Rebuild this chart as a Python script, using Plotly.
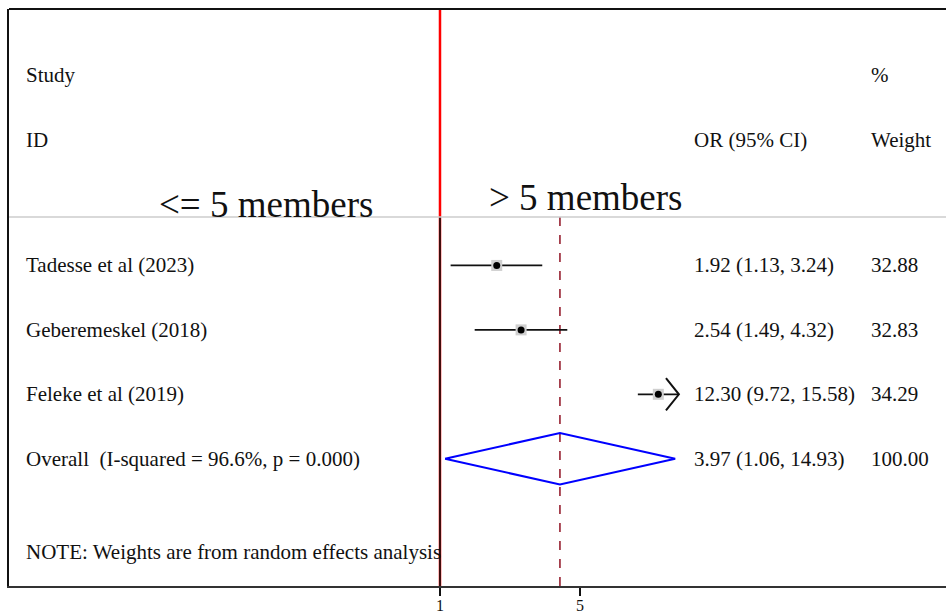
import math
import plotly.graph_objects as go

# Study-level odds ratios (household size > 5 vs <= 5 members)
studies = ["Tadesse et al (2023)", "Geberemeskel (2018)", "Feleke et al (2019)"]
or_est = [1.92, 2.54, 12.30]
ci_lo = [1.13, 1.49, 9.72]
ci_hi = [3.24, 4.32, 15.58]
weights = [32.88, 32.83, 34.29]

# Pooled random-effects estimate
pooled_label = "Overall  (I-squared = 96.6%, p = 0.000)"
pooled_est = 3.97
pooled_lo = 1.06
pooled_hi = 14.93
pooled_weight = 100.00

note_text = "NOTE: Weights are from random effects analysis"
tick_vals = [1, 5]
tick_text = ["1", "5"]

# Row positions (top study first)
study_rows = [4, 3, 2]
pooled_row = 1
y_bottom, y_top = -0.975, 7.98
divider_row = 4.75

FONT = "Liberation Serif"
fig = go.Figure()

# Reference line at OR = 1 (red over the whole panel, black across the study rows)
fig.add_trace(go.Scatter(x=[1, 1], y=[y_bottom, y_top], mode="lines",
                         line=dict(color="#ff0000", width=2.5), hoverinfo="skip"))
fig.add_trace(go.Scatter(x=[1, 1], y=[y_bottom, divider_row], mode="lines",
                         line=dict(color="#111111", width=1.6), hoverinfo="skip"))

# Dashed line at the pooled estimate
fig.add_trace(go.Scatter(x=[pooled_est, pooled_est], y=[y_bottom, divider_row], mode="lines",
                         line=dict(color="#962030", width=1.6, dash="dash"), hoverinfo="skip"))

# Horizontal divider under the header
fig.add_shape(type="line", xref="paper", yref="y", x0=0, x1=1, y0=divider_row, y1=divider_row,
              line=dict(color="#cccccc", width=1.5))

# Confidence intervals
for lo, hi, row in zip(ci_lo, ci_hi, study_rows):
    fig.add_trace(go.Scatter(x=[lo, hi], y=[row, row], mode="lines",
                             line=dict(color="#111111", width=1.8), hoverinfo="skip"))

# Arrowhead on the widest interval
arrow_idx = 2
tip = ci_hi[arrow_idx]
back = tip / 1.16
r = study_rows[arrow_idx]
fig.add_trace(go.Scatter(x=[back, tip, back], y=[r + 0.25, r, r - 0.25], mode="lines",
                         line=dict(color="#111111", width=2), hoverinfo="skip"))

# Weight boxes and point estimates
fig.add_trace(go.Scatter(x=or_est, y=study_rows, mode="markers",
                         marker=dict(symbol="square", size=11, color="#cfcfcf"), hoverinfo="skip"))
fig.add_trace(go.Scatter(x=or_est, y=study_rows, mode="markers",
                         marker=dict(symbol="circle", size=7, color="#000000"), hoverinfo="skip"))

# Pooled diamond
fig.add_trace(go.Scatter(x=[pooled_lo, pooled_est, pooled_hi, pooled_est, pooled_lo],
                         y=[pooled_row, pooled_row + 0.4, pooled_row, pooled_row - 0.4, pooled_row],
                         mode="lines", line=dict(color="#0000ff", width=2), hoverinfo="skip"))

def txt(x, y, s, size=21, anchor="left"):
    fig.add_annotation(x=x, y=y, xref="paper", yref="y", text=s, showarrow=False,
                       xanchor=anchor, yanchor="middle",
                       font=dict(family=FONT, size=size, color="#111111"))

LEFT_X, OR_X, W_X = 0.016, 0.7284, 0.9178

# Column headers
txt(LEFT_X, 6.96, "Study")
txt(LEFT_X, 5.95, "ID")
txt(W_X, 6.96, "%")
txt(W_X, 5.95, "Weight")
txt(OR_X, 5.95, "OR (95% CI)")

# Direction labels
txt(0.2748, 4.95, "&lt;= 5 members", size=37, anchor="center")
txt(0.6163, 5.05, "&gt; 5 members", size=37, anchor="center")

# Study rows
for name, e, lo, hi, w, row in zip(studies, or_est, ci_lo, ci_hi, weights, study_rows):
    txt(LEFT_X, row, name)
    txt(OR_X, row, f"{e:.2f} ({lo:.2f}, {hi:.2f})")
    txt(W_X, row, f"{w:.2f}")

txt(LEFT_X, pooled_row, pooled_label)
txt(OR_X, pooled_row, f"{pooled_est:.2f} ({pooled_lo:.2f}, {pooled_hi:.2f})")
txt(W_X, pooled_row, f"{pooled_weight:.2f}")

txt(LEFT_X, -0.45, note_text)

# X tick labels placed just under the tick marks (log axis -> log10 positions)
for v, t in zip(tick_vals, tick_text):
    fig.add_annotation(x=math.log10(v), y=0, xref="x", yref="paper", text=t,
                       showarrow=False, xanchor="center", yanchor="top", yshift=-9,
                       font=dict(family=FONT, size=16, color="#111111"))

# Top border
fig.add_shape(type="line", xref="paper", yref="paper", x0=0, x1=1, y0=1, y1=1,
              line=dict(color="#111111", width=2))

fig.update_layout(
    width=946, height=613,
    margin=dict(l=9, r=0, t=9, b=27, autoexpand=False),
    paper_bgcolor="white", plot_bgcolor="white",
    showlegend=False,
    xaxis=dict(type="log", range=[-2.1515, 2.526], tickvals=tick_vals,
               showticklabels=False,
               ticks="outside", ticklen=8, tickwidth=1.5, tickcolor="#111111",
               showline=True, linecolor="#333333", linewidth=2,
               showgrid=False, zeroline=False, automargin=False),
    yaxis=dict(range=[y_bottom, y_top], showline=True, linecolor="#111111", linewidth=2,
               showticklabels=False, ticks="", showgrid=False, zeroline=False,
               automargin=False),
)

fig.write_html("out.html")
